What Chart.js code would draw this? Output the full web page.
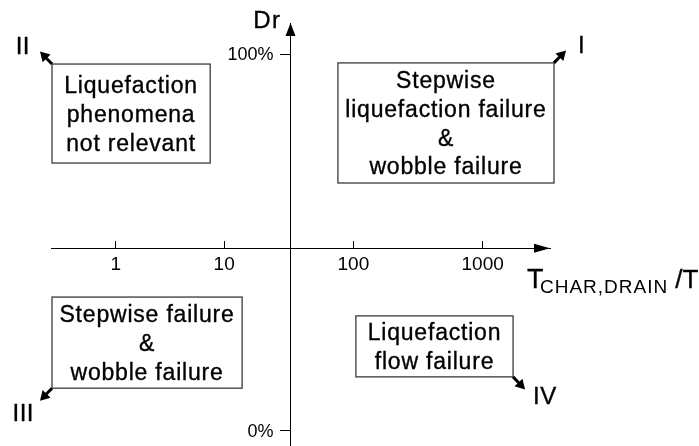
<!DOCTYPE html>
<html>
<head>
<meta charset="utf-8">
<script src="https://cdn.jsdelivr.net/npm/chart.js@4.4.0/dist/chart.umd.min.js"></script>
<style>
  html, body { margin: 0; padding: 0; background: #fff; }
  #wrap { width: 699px; height: 446px; position: relative; }
</style>
</head>
<body>
<div id="wrap"><canvas id="quadChart"></canvas></div>
<script>
// horizontal axis runs 0..100 (% of its length), ticks
var xTickPos = [13.0, 34.7, 60.6, 86.5];
var xTickLabels = ['1', '10', '100', '1000'];
// vertical axis is relative density Dr
var yTickPos = [0, 100];
var yTickLabels = ['0%', '100%'];
var xCross = 48.0;   // Dr axis sits here on the horizontal axis
var yCross = 48.5;   // horizontal axis sits here on the Dr axis

var quadrantNames = ['I', 'II', 'III', 'IV'];
var quadrantTexts = [
  ['Stepwise', 'liquefaction failure', '&', 'wobble failure'],
  ['Liquefaction', 'phenomena', 'not relevant'],
  ['Stepwise failure', '&', 'wobble failure'],
  ['Liquefaction', 'flow failure']
];

// layout of the annotation boxes, in axis units: [xLeft, xRight, yTop, yBottom]
var boxRects = [
  [57.5, 100.8, 97.7, 65.8],
  [0.2, 31.9, 97.4, 71.1],
  [0.2, 38.3, 35.5, 11.3],
  [61.1, 92.6, 30.5, 14.3]
];
// which corner the arrow leaves from, and where the numeral sits (px from tip)
var arrowDir = [[1, -1], [-1, -1], [-1, 1], [1, 1]];
var numeralOff = [[12, 3, 'left'], [-10, 2, 'right'], [-6, 20, 'right'], [8, 15, 'left']];

var FONT = '"Liberation Sans", Arial, sans-serif';
Chart.defaults.font.family = FONT;
Chart.defaults.color = '#000';

function arrow(ctx, x0, y0, x1, y1, headLen, headHalf, lw) {
  var ang = Math.atan2(y1 - y0, x1 - x0);
  var bx = x1 - headLen * Math.cos(ang), by = y1 - headLen * Math.sin(ang);
  if (lw > 0) {
    ctx.lineWidth = lw;
    ctx.beginPath(); ctx.moveTo(x0, y0); ctx.lineTo(bx + Math.cos(ang), by + Math.sin(ang)); ctx.stroke();
  }
  ctx.beginPath();
  ctx.moveTo(x1, y1);
  ctx.lineTo(bx + headHalf * Math.sin(ang), by - headHalf * Math.cos(ang));
  ctx.lineTo(bx - headHalf * Math.sin(ang), by + headHalf * Math.cos(ang));
  ctx.closePath();
  ctx.fill();
}

// slightly heavier text, closer to the hinted original
function heavyText(ctx, s, x, y) {
  ctx.lineWidth = 0.35;
  ctx.strokeStyle = '#000';
  ctx.fillText(s, x, y);
  ctx.strokeText(s, x, y);
}

var quadrantPlugin = {
  id: 'quadrants',
  afterDraw: function(chart) {
    var ctx = chart.ctx, xs = chart.scales.x, ys = chart.scales.y;
    var axisX = xs.getPixelForValue(xCross), axisY = ys.getPixelForValue(yCross);
    ctx.save();
    ctx.fillStyle = '#000';
    ctx.strokeStyle = '#000';

    // Dr tick labels, left of the tick marks
    ctx.font = '18px ' + FONT;
    ctx.textAlign = 'right';
    ctx.textBaseline = 'middle';
    for (var k = 0; k < yTickPos.length; k++) {
      ctx.fillText(yTickLabels[k], axisX - 17, ys.getPixelForValue(yTickPos[k]) + 1);
    }

    // axis arrowheads
    var xEnd = xs.getPixelForValue(xs.max);
    arrow(ctx, xEnd - 16, axisY, xEnd, axisY, 16, 4.5, 0);
    var yEnd = ys.getPixelForValue(ys.max);
    arrow(ctx, axisX, yEnd + 13, axisX, yEnd, 13, 5, 0);

    // axis titles
    ctx.textBaseline = 'alphabetic';
    ctx.font = '24px ' + FONT;
    ctx.letterSpacing = '1.5px';
    ctx.textAlign = 'right';
    heavyText(ctx, 'Dr', axisX - 9, yEnd + 5);
    ctx.textAlign = 'left';
    var tx = xEnd - 23, tb = axisY + 40;
    ctx.letterSpacing = '0px';
    ctx.font = '27px ' + FONT;
    heavyText(ctx, 'T', tx, tb);
    ctx.font = '19px ' + FONT;
    ctx.letterSpacing = '1px';
    ctx.fillText('CHAR,DRAIN', tx + 13, tb + 5);
    var subW = ctx.measureText('CHAR,DRAIN').width;
    ctx.font = '26px ' + FONT;
    ctx.letterSpacing = '0px';
    heavyText(ctx, '/T', tx + 13 + subW + 7, tb);

    // boxes, their text, corner arrows, numerals
    for (var i = 0; i < boxRects.length; i++) {
      var r = boxRects[i];
      var x1 = xs.getPixelForValue(r[0]), x2 = xs.getPixelForValue(r[1]);
      var y1 = ys.getPixelForValue(r[2]), y2 = ys.getPixelForValue(r[3]);
      ctx.strokeStyle = '#3a3a3a';
      ctx.lineWidth = 1.3;
      ctx.strokeRect(x1, y1, x2 - x1, y2 - y1);

      var lines = quadrantTexts[i], lh = 28.8;
      var cx = (x1 + x2) / 2, cy = (y1 + y2) / 2;
      ctx.font = '23px ' + FONT;
      ctx.letterSpacing = '0.8px';
      ctx.textAlign = 'center';
      for (var j = 0; j < lines.length; j++) {
        var lc = cy + (j - (lines.length - 1) / 2) * lh;
        heavyText(ctx, lines[j], cx, lc + 8.3);
      }

      var d = arrowDir[i];
      var sx = d[0] > 0 ? x2 : x1, sy = d[1] > 0 ? y2 : y1;
      var ex = sx + d[0] * 12, ey = sy + d[1] * 12.5;
      ctx.strokeStyle = '#000';
      arrow(ctx, sx, sy, ex, ey, 9.5, 5.5, 3);

      var o = numeralOff[i];
      ctx.font = '24px ' + FONT;
      ctx.letterSpacing = '0.5px';
      ctx.textAlign = o[2];
      heavyText(ctx, quadrantNames[i], ex + o[0], ey + o[1]);
    }
    ctx.restore();
  }
};

new Chart(document.getElementById('quadChart'), {
  type: 'scatter',
  data: { datasets: [{ data: [] }] },
  options: {
    responsive: true,
    maintainAspectRatio: false,
    animation: false,
    events: [],
    layout: { padding: { left: 51, right: 149, top: 23, bottom: 0 } },
    plugins: { legend: { display: false }, tooltip: { enabled: false } },
    scales: {
      x: {
        type: 'linear',
        min: 0,
        max: 100,
        position: { y: yCross },
        afterBuildTicks: function(s) { s.ticks = xTickPos.map(function(v) { return { value: v }; }); },
        afterFit: function(s) { s.height = 0; s.paddingLeft = 0; s.paddingRight = 0; },
        ticks: {
          autoSkip: false,
          maxRotation: 0,
          padding: 13,
          font: { size: 19 },
          color: '#000',
          callback: function(v, i) { return xTickLabels[i]; }
        },
        grid: { display: true, drawOnChartArea: false, drawTicks: true, tickLength: -8, color: '#000', lineWidth: 1 },
        border: { display: true, color: '#000', width: 1 }
      },
      y: {
        type: 'linear',
        min: -4.06,
        max: 108.3,
        position: { x: xCross },
        afterBuildTicks: function(s) { s.ticks = yTickPos.map(function(v) { return { value: v }; }); },
        afterFit: function(s) { s.width = 0; s.paddingTop = 0; s.paddingBottom = 0; },
        ticks: { display: false },
        grid: { display: true, drawOnChartArea: false, drawTicks: true, tickLength: 10, color: '#000', lineWidth: 1 },
        border: { display: true, color: '#000', width: 1 }
      }
    }
  },
  plugins: [quadrantPlugin]
});
</script>
</body>
</html>
